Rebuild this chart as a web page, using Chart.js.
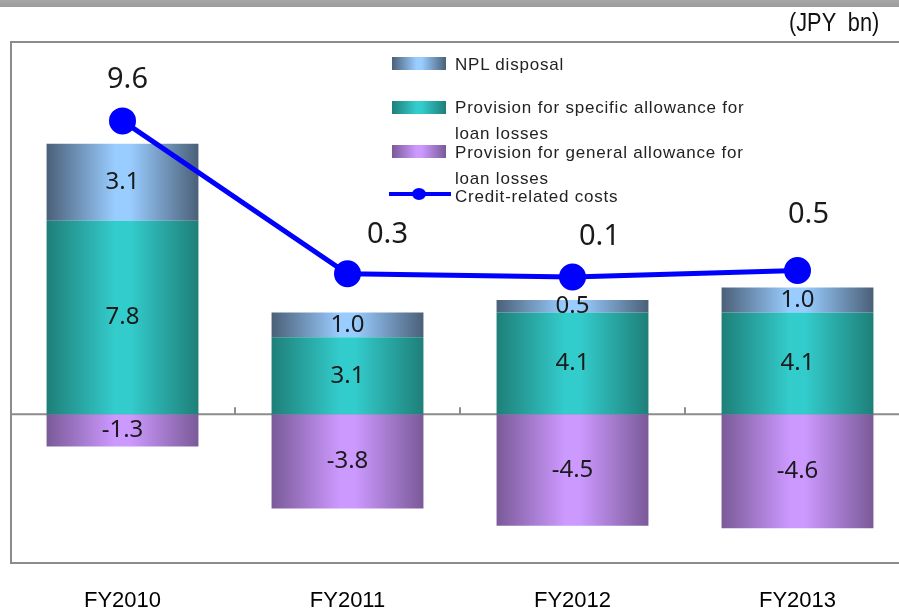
<!DOCTYPE html>
<html>
<head>
<meta charset="utf-8">
<script src="https://cdn.jsdelivr.net/npm/chart.js@4"></script>
<style>
  html, body { margin: 0; padding: 0; background: #fff; overflow: hidden; }
  #wrap { position: relative; width: 899px; height: 610px; overflow: hidden; }
  #chart { position: absolute; left: 0; top: 0; }
  .title {
    position: absolute; left: 0; top: -22px; width: 899px; height: 29px;
    background: linear-gradient(#c8c8c8, #9c9c9c);
    font: 26px "Liberation Sans", Arial, sans-serif; color: #444;
    text-align: center; line-height: 22px;
  }
  .unit {
    position: absolute; left: 789px; top: 8px; white-space: pre;
    font: 25px "Liberation Sans", Arial, sans-serif; color: #111;
    transform: scaleX(0.87); transform-origin: left top;
  }
  .lg { position: absolute; font: 17px "Liberation Sans", Arial, sans-serif; color: #222;
        line-height: 26px; letter-spacing: 0.8px; white-space: nowrap; }
  .sw { position: absolute; width: 54px; height: 13px; }
</style>
</head>
<body>
<div id="wrap">
  <canvas id="chart" width="920" height="610"></canvas>
  <div class="title">Credit-related costs</div>
  <div class="unit">(JPY  bn)</div>

  <div class="sw" style="left:392px;top:57px;background:linear-gradient(90deg,#4b6078,#99ccff 45%,#99ccff 55%,#4b6078);"></div>
  <div class="lg" style="left:455px;top:52px;">NPL disposal</div>

  <div class="sw" style="left:392px;top:101px;background:linear-gradient(90deg,#1e7f78,#33cccc 45%,#33cccc 55%,#1e7f78);"></div>
  <div class="lg" style="left:455px;top:95px;">Provision for specific allowance for<br>loan losses</div>

  <div class="sw" style="left:392px;top:145px;background:linear-gradient(90deg,#7a5a98,#cc99ff 45%,#cc99ff 55%,#7a5a98);"></div>
  <div class="lg" style="left:455px;top:140px;">Provision for general allowance for<br>loan losses</div>

  <div style="position:absolute;left:389px;top:192px;width:62px;height:4px;background:#0000ff;"></div>
  <div style="position:absolute;left:412px;top:188px;width:14px;height:12px;border-radius:50%;background:#0000ff;"></div>
  <div class="lg" style="left:455px;top:184px;">Credit-related costs</div>
</div>

<script>
const categories = ["FY2010", "FY2011", "FY2012", "FY2013"];
const nplDisposal = [3.1, 1.0, 0.5, 1.0];
const specificAllowance = [7.8, 3.1, 4.1, 4.1];
const generalAllowance = [-1.3, -3.8, -4.5, -4.6];
const creditCosts = [9.6, 0.3, 0.1, 0.5];

const BAR_PCT = 0.675;
const labelFont = '"Noto Sans", Roboto, sans-serif';

// horizontal gradient across each bar: dark edges, light middle
function barGradient(edge, mid) {
  return (ctx) => {
    const chart = ctx.chart;
    const x = chart.scales.x;
    if (!x || !chart.chartArea) return mid;
    const cx = x.getPixelForValue(ctx.dataIndex);
    const w = (x.width / categories.length) * BAR_PCT;
    const g = chart.ctx.createLinearGradient(cx - w / 2, 0, cx + w / 2, 0);
    g.addColorStop(0, edge);
    g.addColorStop(0.45, mid);
    g.addColorStop(0.55, mid);
    g.addColorStop(1, edge);
    return g;
  };
}

const frame = {
  id: "frame",
  beforeDatasetsDraw(chart) {
    const { ctx, chartArea: a } = chart;
    const y0 = chart.scales.y.getPixelForValue(0);
    const x = chart.scales.x;
    ctx.save();
    ctx.strokeStyle = "#8c8c8c";
    ctx.lineWidth = 2;
    ctx.strokeRect(a.left + 1, a.top, a.right - a.left, a.bottom - a.top);
    ctx.beginPath();
    ctx.moveTo(a.left, y0);
    ctx.lineTo(a.right, y0);
    for (let i = 1; i < categories.length; i++) {
      const tx = (x.getPixelForValue(i - 1) + x.getPixelForValue(i)) / 2;
      ctx.moveTo(tx, y0);
      ctx.lineTo(tx, y0 - 7);
    }
    ctx.stroke();
    ctx.restore();
  }
};

const lineLabelOffsets = [[5, -41], [40, -39], [27, -40], [11, -56]];

const valueLabels = {
  id: "valueLabels",
  afterDatasetsDraw(chart) {
    const ctx = chart.ctx;
    ctx.save();
    ctx.textAlign = "center";
    ctx.textBaseline = "middle";
    chart.data.datasets.forEach((ds, di) => {
      const meta = chart.getDatasetMeta(di);
      meta.data.forEach((el, i) => {
        const v = ds.data[i];
        ctx.fillStyle = "#1a1a1a";
        if (ds.type === "line") {
          ctx.font = "29px " + labelFont;
          const o = lineLabelOffsets[i];
          ctx.fillText(v.toFixed(1), el.x + o[0], el.y + o[1]);
        } else {
          const p = el.getProps(["x", "y", "base"], true);
          ctx.font = "24px " + labelFont;
          ctx.fillText(v.toFixed(1), p.x, (p.y + p.base) / 2);
        }
      });
    });
    ctx.restore();
  }
};

new Chart(document.getElementById("chart"), {
  type: "bar",
  data: {
    labels: categories,
    datasets: [
      {
        type: "line",
        label: "Credit-related costs",
        data: creditCosts,
        yAxisID: "y2",
        borderColor: "#0000ff",
        backgroundColor: "#0000ff",
        borderWidth: 5,
        pointRadius: 11,
        pointHoverRadius: 11,
        tension: 0,
        order: 0
      },
      {
        label: "Provision for specific allowance for loan losses",
        data: specificAllowance,
        backgroundColor: barGradient("#1e7f78", "#33cccc"),
        stack: "s",
        order: 1
      },
      {
        label: "NPL disposal",
        data: nplDisposal,
        backgroundColor: barGradient("#4b6078", "#99ccff"),
        stack: "s",
        order: 1
      },
      {
        label: "Provision for general allowance for loan losses",
        data: generalAllowance,
        backgroundColor: barGradient("#7a5a98", "#cc99ff"),
        stack: "s",
        order: 1
      }
    ]
  },
  options: {
    responsive: false,
    animation: false,
    barPercentage: BAR_PCT,
    categoryPercentage: 1,
    layout: { autoPadding: false, padding: { left: 10, right: 10, top: 42, bottom: 0 } },
    plugins: {
      legend: { display: false },
      tooltip: { enabled: false }
    },
    scales: {
      x: {
        stacked: true,
        grid: { display: false, drawTicks: false },
        border: { display: false },
        ticks: {
          padding: 27,
          color: "#000",
          font: { family: '"Liberation Sans", Arial, sans-serif', size: 22, lineHeight: 1 }
        },
        afterFit(scale) {
          scale.height = 47;
          scale.paddingLeft = 0;
          scale.paddingRight = 0;
        }
      },
      y: {
        stacked: true,
        display: false,
        min: -6,
        max: 15
      },
      y2: {
        display: false,
        min: -17.3,
        max: 14.4
      }
    }
  },
  plugins: [frame, valueLabels]
});
</script>
</body>
</html>
